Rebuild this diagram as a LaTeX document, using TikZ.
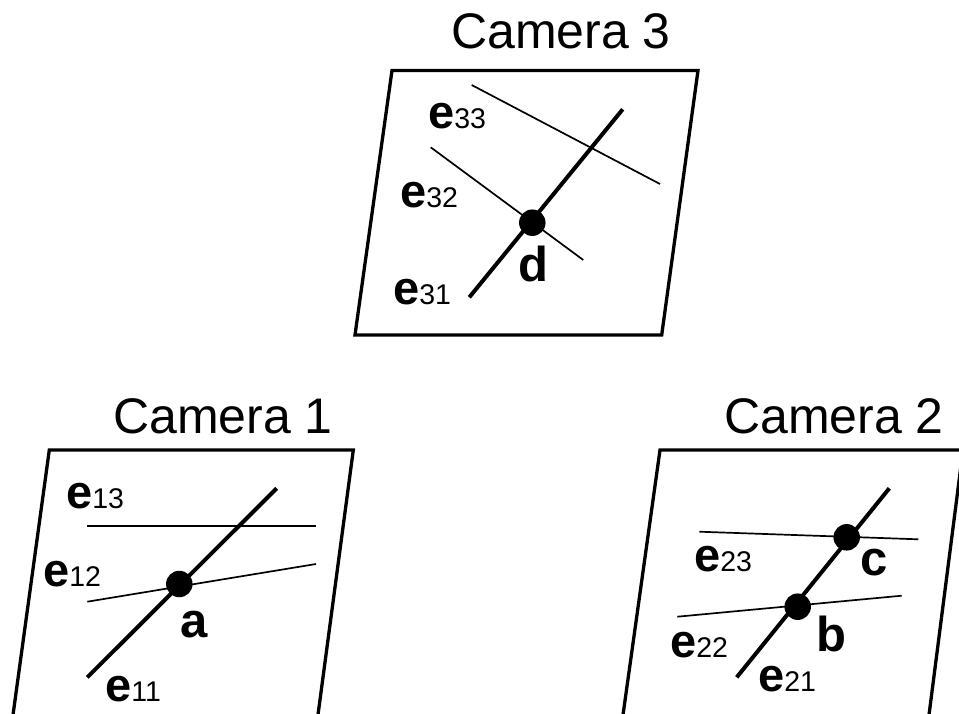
\documentclass[tikz,border=0pt]{standalone}
\usepackage{fontspec}
\setmainfont{Liberation Sans}
\newcommand\eplab[1]{{\fontsize{47}{56}\selectfont\bfseries e}{\fontsize{28.5}{34}\selectfont #1}}
\begin{document}
\begin{tikzpicture}[x=1pt,y=-1pt,
  frame/.style={line width=3.3pt, line join=miter},
  ray/.style={line width=4pt},
  epi/.style={line width=1.7pt},
  dot/.style={circle, fill=black, inner sep=0pt, minimum size=26.5pt},
  title/.style={font=\fontsize{50}{60}\selectfont, inner sep=0pt, anchor=base west},
  lab/.style={inner sep=0pt, anchor=base west},
  ptlab/.style={font=\fontsize{49}{58}\selectfont\bfseries, inner sep=0pt, anchor=base west}]
\useasboundingbox (0,0) rectangle (959,713);
\clip (0,0) rectangle (959,713);
% ---------- Camera 3 ----------
\node[title] (t3) at (451,48.3) {Camera 3};
\draw[frame] (392,70.5) -- (698,70.5) -- (661.7,335) -- (355,335) -- cycle;
\coordinate (e33a) at (471.7,85);  \coordinate (e33b) at (660,184);
\coordinate (e32a) at (430.7,147.3); \coordinate (e32b) at (583.3,260);
\coordinate (r3a) at (469.3,297.3); \coordinate (r3b) at (622.7,109.3);
\draw[epi] (e33a) -- (e33b);
\draw[epi] (e32a) -- (e32b);
\draw[ray] (r3a) -- (r3b);
\node[dot] (d) at (532.3,222.7) {};
\node[lab] (l33) at (428,128) {\eplab{33}};
\node[lab] (l32) at (400,207) {\eplab{32}};
\node[lab] (l31) at (393,304) {\eplab{31}};
\node[ptlab] (ld) at (518,281.7) {d};
% ---------- Camera 1 ----------
\node[title] (t1) at (113,433.3) {Camera 1};
\draw[frame] (49.3,450) -- (353.3,450) -- (313.3,750) -- (8.2,750) -- cycle;
\coordinate (e13a) at (87.3,525.7); \coordinate (e13b) at (316,525.7);
\coordinate (e12a) at (87.3,601.7); \coordinate (e12b) at (316,564);
\coordinate (r1a) at (87.3,677.3); \coordinate (r1b) at (276.7,488.3);
\draw[epi] (e13a) -- (e13b);
\draw[epi] (e12a) -- (e12b);
\draw[ray] (r1a) -- (r1b);
\node[dot] (a) at (179.3,584) {};
\node[lab] (l13) at (66,508) {\eplab{13}};
\node[lab] (l12) at (43,586.7) {\eplab{12}};
\node[lab] (l11) at (105,701.7) {\eplab{11}};
\node[ptlab] (la) at (180,637) {a};
% ---------- Camera 2 ----------
\node[title] (t2) at (724,433.3) {Camera 2};
\draw[frame] (660,450) -- (963,450) -- (924.5,750) -- (618.1,750) -- cycle;
\coordinate (e23a) at (699.3,531.7); \coordinate (e23b) at (918.3,539.3);
\coordinate (e22a) at (677.3,616.7); \coordinate (e22b) at (901.7,595.7);
\coordinate (r2a) at (736.7,677.3); \coordinate (r2b) at (889.3,488.3);
\draw[epi] (e23a) -- (e23b);
\draw[epi] (e22a) -- (e22b);
\draw[ray] (r2a) -- (r2b);
\node[dot] (c) at (846.7,537.3) {};
\node[dot] (b) at (797.7,606.7) {};
\node[lab] (l23) at (694,571.7) {\eplab{23}};
\node[ptlab] (lc) at (860,575) {c};
\node[lab] (l22) at (670,657) {\eplab{22}};
\node[ptlab] (lb) at (816,651.7) {b};
\node[lab] (l21) at (758,691.7) {\eplab{21}};
\end{tikzpicture}
\end{document}
